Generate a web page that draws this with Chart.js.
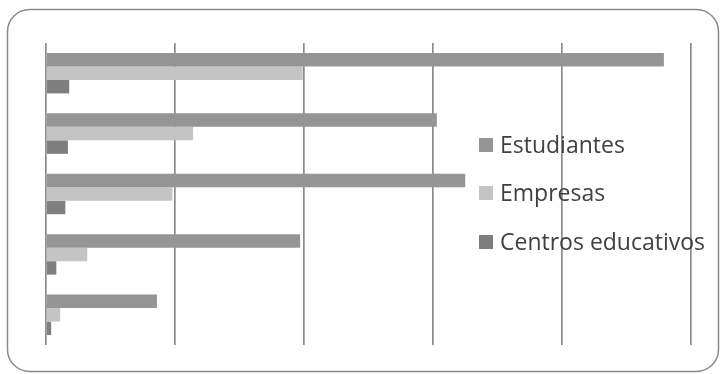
<!DOCTYPE html>
<html>
<head>
<meta charset="utf-8">
<script src="https://cdn.jsdelivr.net/npm/chart.js@4/dist/chart.umd.min.js"></script>
<style>
html,body{margin:0;padding:0;background:#fff;}
#wrap{position:relative;width:725px;height:374px;}
</style>
</head>
<body>
<div id="wrap"><canvas id="c" width="725" height="374"></canvas></div>
<script>
const categories = ["1", "2", "3", "4", "5"];
const seriesNames = ["Estudiantes", "Empresas", "Centros educativos"];
const estudiantes = [4.79, 3.03, 3.25, 1.97, 0.86];
const empresas = [1.99, 1.14, 0.98, 0.32, 0.11];
const centros = [0.18, 0.17, 0.15, 0.08, 0.04];
const seriesColors = ["#959595", "#c4c4c4", "#7f7f7f"];

const frame = {
  id: 'frame',
  beforeDraw(chart) {
    const ctx = chart.ctx;
    ctx.save();
    ctx.fillStyle = '#fff';
    ctx.fillRect(0, 0, chart.width, chart.height);
    ctx.strokeStyle = '#8a8a8a';
    ctx.lineWidth = 1.5;
    ctx.beginPath();
    ctx.roundRect(7.5, 9.5, 711, 362, 22);
    ctx.stroke();
    ctx.restore();
  }
};

const legendPlugin = {
  id: 'customLegend',
  afterDatasetsDraw(chart) {
    const ctx = chart.ctx;
    ctx.save();
    ctx.font = '23px "Open Sans", sans-serif';
    ctx.textBaseline = 'middle';
    const x0 = 479, ys = [145, 193, 242];
    chart.data.datasets.forEach((ds, i) => {
      ctx.fillStyle = ds.backgroundColor;
      ctx.fillRect(x0, ys[i] - 7, 14, 14);
      ctx.fillStyle = '#404040';
      ctx.fillText(ds.label, x0 + 21, ys[i] + 1);
    });
    ctx.restore();
  }
};

new Chart(document.getElementById('c'), {
  type: 'bar',
  data: {
    labels: categories,
    datasets: [
      { label: seriesNames[0], data: estudiantes, backgroundColor: seriesColors[0] },
      { label: seriesNames[1], data: empresas, backgroundColor: seriesColors[1] },
      { label: seriesNames[2], data: centros, backgroundColor: seriesColors[2] }
    ]
  },
  options: {
    indexAxis: 'y',
    responsive: false,
    animation: false,
    devicePixelRatio: 1,
    layout: { padding: { left: 46, top: 43, right: 34, bottom: 29 } },
    datasets: { bar: { categoryPercentage: 0.67, barPercentage: 1.0, borderWidth: 0 } },
    plugins: { legend: { display: false }, tooltip: { enabled: false } },
    scales: {
      x: {
        min: 0, max: 5,
        ticks: { display: false, stepSize: 1 },
        grid: { color: '#8c8c8c', lineWidth: 1.7, drawTicks: false },
        border: { display: false }
      },
      y: {
        display: false
      }
    }
  },
  plugins: [frame, legendPlugin]
});
</script>
</body>
</html>
